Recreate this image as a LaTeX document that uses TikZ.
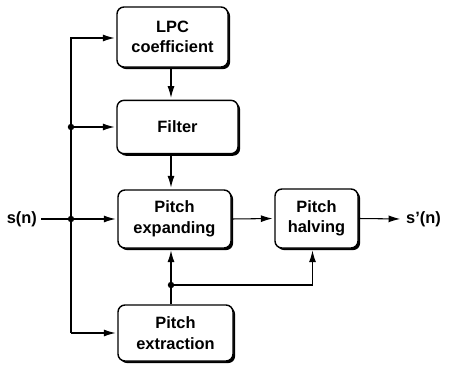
\documentclass[tikz,border=0pt]{standalone}
\usepackage{fontspec}
\setmainfont{Liberation Sans}
\usetikzlibrary{arrows.meta,shadows}
\tikzset{
  block/.style={draw,line width=1.2pt,rounded corners=6pt,fill=white,align=center,
    drop shadow={shadow xshift=1.8pt,shadow yshift=-1.8pt,opacity=1,fill=black}},
  sig/.style={line width=0.9pt,-{Latex[length=10pt,width=6pt]},shorten >=1.5pt},
  junction/.style={circle,fill=black,inner sep=0pt,minimum size=5.5pt}
}
\begin{document}
\begin{tikzpicture}[x=0.03cm,y=-0.03cm,
    font=\bfseries\fontsize{14}{17.5}\selectfont]
    \useasboundingbox (0,0) rectangle (451,366);
    % Bloques
    \node[block,minimum width=3.33cm,minimum height=1.8cm] (lpc) at (172.5,37) {LPC\\coefficient};
    \node[block,minimum width=3.63cm,minimum height=1.6cm] (filter) at (177.5,127) {Filter};
    \node[block,minimum width=3.39cm,minimum height=1.74cm] (expd) at (174.5,219) {Pitch\\expanding};
    \node[block,minimum width=3.45cm,minimum height=1.68cm] (extr) at (175.5,333) {Pitch\\extraction};
    \node[block,minimum width=2.49cm,minimum height=1.77cm] (halv) at (316.5,218.5) {Pitch\\halving};

    % Entrada y salida
    \node[anchor=east] (in) at (41,219) {s(n)};
    \node[anchor=west] (out) at (402,219) {s'(n)};
    \coordinate (top) at (71,38);
    \coordinate (bot) at (71,333);
    \node[junction] (j1) at (71,127) {};
    \node[junction] (j2) at (71,219) {};
    \node[junction] (j3) at (171,285) {};

    % Conexiones
    \draw[sig] (bot) -- (top) -- (lpc.west |- top);
    \draw[sig] (j1) -- (filter.west);
    \draw[sig] (in.east) -- (expd.west);
    \draw[sig] (bot) -- (extr.west |- bot);
    \draw[sig] (lpc.south -| j3) -- (filter.north -| j3);
    \draw[sig] (filter.south -| j3) -- (expd.north -| j3);
    \draw[sig] (extr.north -| j3) -- (expd.south -| j3);
    \draw[sig] (j3) -| ([xshift=-0.12cm]halv.south);
    \draw[sig] (expd.east) -- (halv.west);
    \draw[sig] (halv.east) -- (out.west);
\end{tikzpicture}
\end{document}
